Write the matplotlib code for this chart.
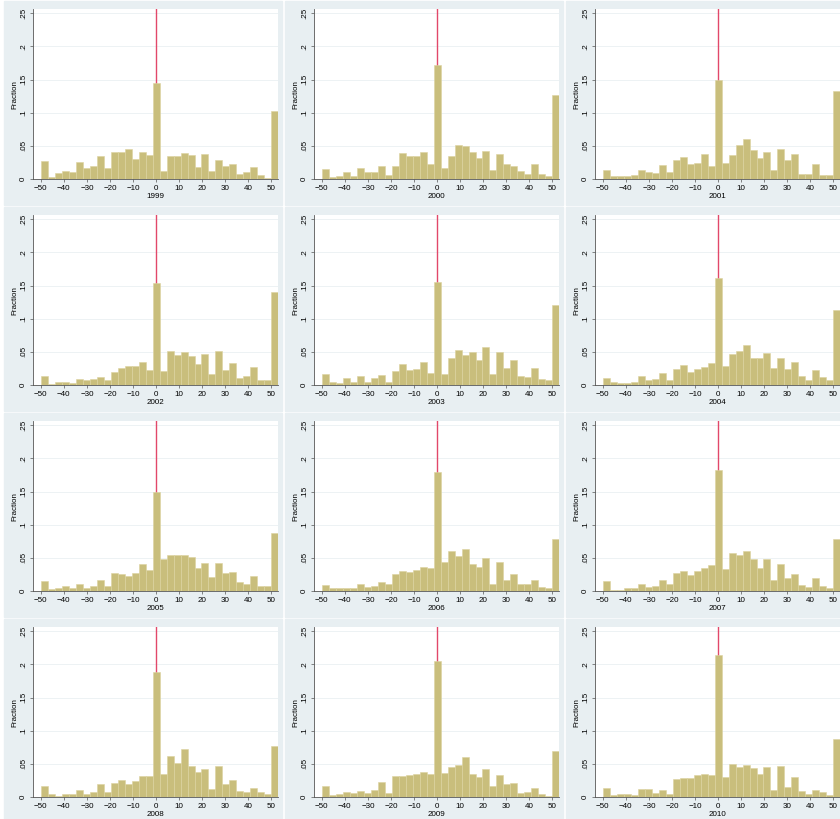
import numpy as np
import matplotlib.pyplot as plt
from matplotlib.patches import Rectangle

plt.rcParams['font.family'] = ['Liberation Sans', 'DejaVu Sans']

# share of observations in each bin (34 bins, centred on 0)
f1999 = [.027, .003, .009, .012, .010, .025, .016, .020, .035, .017, .041, .040, .046, .030, .040, .036, .145,
         .012, .035, .035, .039, .036, .018, .038, .012, .028, .020, .023, .007, .011, .018, .006, .002, .103]
f2000 = [.015, .003, .004, .011, .005, .017, .010, .011, .019, .006, .019, .039, .034, .035, .041, .023, .172,
         .016, .034, .051, .050, .041, .031, .042, .013, .037, .023, .020, .012, .008, .022, .008, .005, .126]
f2001 = [.013, .005, .005, .004, .006, .013, .011, .009, .021, .010, .029, .033, .023, .024, .037, .020, .149,
         .024, .036, .051, .061, .044, .032, .040, .013, .046, .029, .038, .008, .008, .023, .006, .006, .132]
f2002 = [.014, .002, .004, .004, .003, .009, .008, .009, .012, .007, .020, .025, .028, .028, .035, .022, .154,
         .021, .051, .046, .050, .043, .032, .047, .017, .052, .023, .033, .011, .013, .027, .007, .007, .140]
f2003 = [.016, .004, .003, .011, .004, .014, .005, .011, .015, .004, .021, .031, .023, .024, .034, .018, .155,
         .017, .041, .053, .046, .050, .037, .057, .016, .050, .025, .037, .014, .012, .025, .009, .008, .120]
f2004 = [.011, .004, .003, .003, .004, .013, .007, .009, .018, .008, .024, .030, .020, .024, .027, .033, .162,
         .028, .047, .052, .060, .041, .040, .049, .026, .041, .024, .034, .013, .008, .023, .012, .007, .113]
f2005 = [.015, .003, .004, .007, .004, .010, .005, .007, .016, .008, .027, .025, .023, .027, .041, .031, .149,
         .048, .054, .055, .054, .052, .035, .042, .021, .042, .027, .029, .013, .011, .023, .008, .007, .088]
f2006 = [.009, .004, .004, .005, .004, .010, .006, .008, .014, .010, .025, .030, .028, .032, .036, .034, .180,
         .043, .060, .053, .064, .041, .036, .050, .011, .044, .017, .025, .010, .011, .016, .006, .004, .078]
f2007 = [.015, .002, .002, .005, .005, .010, .006, .007, .016, .011, .027, .030, .024, .030, .035, .039, .182,
         .033, .057, .055, .061, .048, .035, .048, .017, .041, .019, .025, .009, .006, .020, .008, .004, .078]
f2008 = [.016, .004, .002, .005, .004, .010, .005, .008, .020, .008, .021, .026, .020, .024, .032, .031, .189,
         .035, .062, .052, .072, .047, .038, .042, .012, .047, .020, .026, .009, .008, .014, .007, .004, .077]
f2009 = [.016, .003, .005, .008, .006, .009, .006, .010, .023, .006, .031, .032, .033, .035, .038, .034, .205,
         .036, .045, .048, .060, .035, .030, .042, .017, .033, .020, .021, .006, .008, .013, .004, .002, .070]
f2010 = [.013, .003, .004, .005, .003, .012, .012, .006, .011, .005, .027, .028, .029, .033, .034, .033, .214,
         .030, .050, .046, .048, .043, .035, .045, .010, .047, .015, .030, .009, .004, .010, .007, .003, .087]

years = ['1999', '2000', '2001', '2002', '2003', '2004',
         '2005', '2006', '2007', '2008', '2009', '2010']
series = [f1999, f2000, f2001, f2002, f2003, f2004,
          f2005, f2006, f2007, f2008, f2009, f2010]

bin_w = 100 / 33
centers = np.arange(-16, 18) * bin_w

W, H = 840, 819
fig = plt.figure(figsize=(W / 100, H / 100), dpi=100, facecolor='white')

bg = '#E8EFF2'
bar_col = '#C9BE7C'
xt = [-50, -40, -30, -20, -10, 0, 10, 20, 30, 40, 50]
yt = [0, .05, .1, .15, .2, .25]
ytl = ['0', '.05', '.1', '.15', '.2', '.25']

for i, (yr, vals) in enumerate(zip(years, series)):
    r, c = divmod(i, 3)
    # light graph region behind each panel
    px0, py0 = 281 * c + 4, 206 * r + 1
    fig.patches.append(Rectangle((px0 / W, 1 - (py0 + 204) / H), 278 / W, 204 / H,
                                 transform=fig.transFigure, color=bg, zorder=-5))
    x0 = 32.7 + 281 * c
    y_top = 9.3 + 206 * r
    ax = fig.add_axes([x0 / W, 1 - (y_top + 169.7) / H, 245.6 / W, 169.7 / H])
    ax.set_facecolor('white')
    ax.axvline(0, color='#E2486A', lw=1, zorder=1)
    ax.bar(centers, vals, width=bin_w, color=bar_col, edgecolor='#DCD3A0', lw=0.4, zorder=2)
    ax.set_xlim(-53.5, 53)
    ax.set_ylim(0, 0.256)
    ax.set_xticks(xt)
    ax.set_yticks(yt)
    ax.set_yticklabels(ytl, rotation=90, va='center')
    ax.grid(axis='y', color='#EAF0F2', lw=0.6, zorder=0)
    ax.set_axisbelow(True)
    for s in ['top', 'right']:
        ax.spines[s].set_visible(False)
    for s in ['left', 'bottom']:
        ax.spines[s].set_color('#555555')
        ax.spines[s].set_linewidth(0.6)
    ax.tick_params(labelsize=5.8, length=2.5, width=0.5, color='#555555', pad=1.5)
    ax.set_xlabel(yr, fontsize=5.8, labelpad=1)
    ax.set_ylabel('Fraction', fontsize=5.8, labelpad=1)

fig.savefig('out.png', dpi=100, facecolor='white')
